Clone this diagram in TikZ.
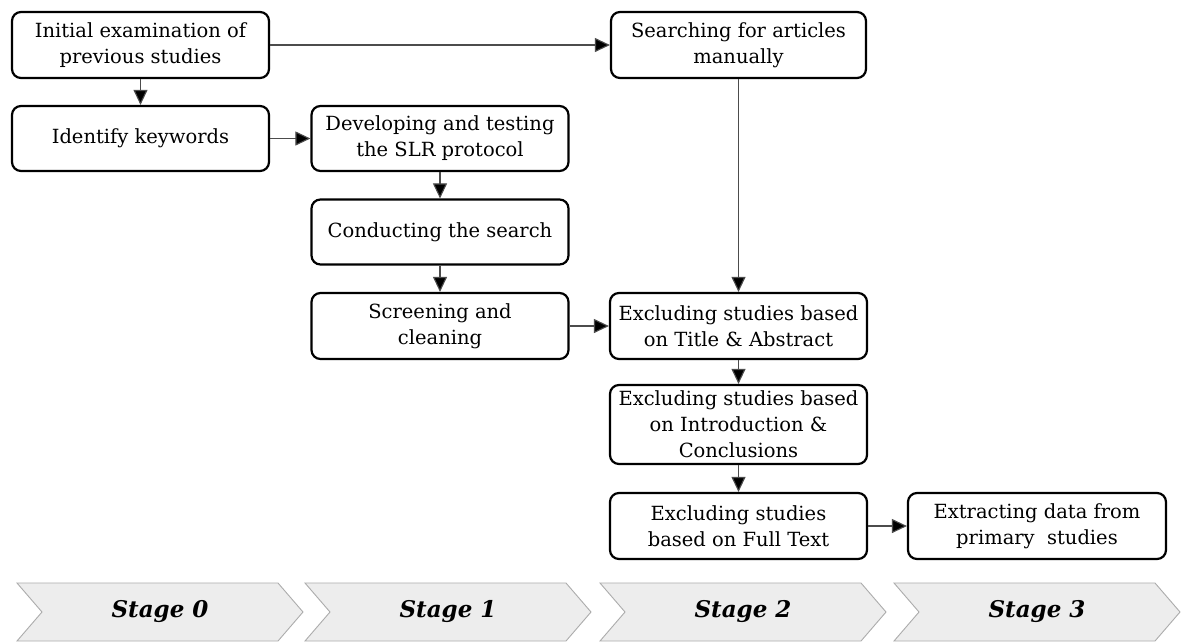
\documentclass[tikz,border=0pt]{standalone}
\usepackage{fontspec}
\setmainfont{DejaVu Serif}
\usetikzlibrary{arrows.meta}
\begin{document}
\begin{tikzpicture}[x=1pt,y=-1pt,
  box/.style={draw=black, line width=2.2pt, rounded corners=9pt, fill=white, align=center, inner sep=0pt, font=\fontsize{19.5}{26}\selectfont},
  conn/.style={draw=gray!60!black, line width=1.1pt, -{Triangle[length=15pt,width=14pt,fill=black]}},
  chev/.style={fill=gray!14, draw=gray!65, line width=0.9pt},
  stagetxt/.style={font=\fontsize{23}{26}\selectfont\bfseries\itshape}]
\clip (0,0) rectangle (1182,641);
\fill[white] (0,0) rectangle (1182,641);

% stage chevrons
\foreach \x in {17,305,600,894}{
  \path[chev] (\x,583) -- (\x+261,583) -- (\x+286,612) -- (\x+261,641) -- (\x,641) -- (\x+25,612) -- cycle;
}
\node[stagetxt] (st0) at (160,612) {Stage 0};
\node[stagetxt] (st1) at (448,612) {Stage 1};
\node[stagetxt] (st2) at (743,612) {Stage 2};
\node[stagetxt] (st3) at (1037,612) {Stage 3};

% boxes
\node[box, minimum width=257pt, minimum height=66pt] (A) at (140.5,45) {Initial examination of\\previous studies};
\node[box, minimum width=257pt, minimum height=65pt] (B) at (140.5,138.5) {Identify keywords};
\node[box, minimum width=257pt, minimum height=65pt] (C) at (440,138.5) {Developing and testing\\the SLR protocol};
\node[box, minimum width=257pt, minimum height=65pt] (D) at (440,232) {Conducting the search};
\node[box, minimum width=257pt, minimum height=66pt] (E) at (440,326) {Screening and\\cleaning};
\node[box, minimum width=255pt, minimum height=66pt] (F) at (738.5,45) {Searching for articles\\manually};
\node[box, minimum width=257pt, minimum height=66pt] (G) at (738.5,326) {Excluding studies based\\on Title \& Abstract};
\node[box, minimum width=257pt, minimum height=79pt] (H) at (738.5,424.5) {Excluding studies based\\on Introduction \&\\Conclusions};
\node[box, minimum width=257pt, minimum height=66pt] (I) at (738.5,526) {Excluding studies\\based on Full Text};
\node[box, minimum width=258pt, minimum height=66pt] (J) at (1037,526) {Extracting data from\\primary\ \ studies};

% connectors
\draw[conn] (A) -- (F);
\draw[conn] (A) -- (B);
\draw[conn] (B) -- (C);
\draw[conn] (C) -- (D);
\draw[conn] (D) -- (E);
\draw[conn] (F) -- (G);
\draw[conn] (E) -- (G);
\draw[conn] (G) -- (H);
\draw[conn] (H) -- (I);
\draw[conn] (I) -- (J);
\end{tikzpicture}
\end{document}
